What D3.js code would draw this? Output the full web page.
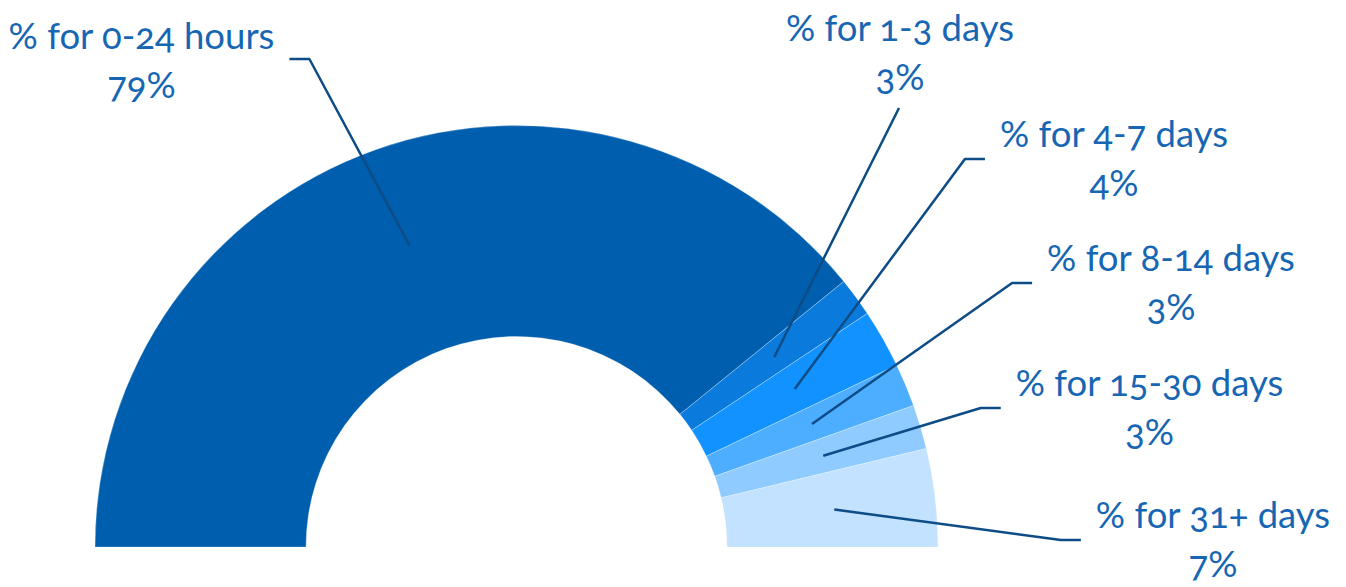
<!DOCTYPE html>
<html>
<head>
<meta charset="utf-8">
<script src="https://cdn.jsdelivr.net/npm/d3@7"></script>
<style>
  html, body { margin: 0; background: #fff; }
  svg { display: block; }
  .lbl {
    font-family: Lato, "Open Sans", "DejaVu Sans", sans-serif;
    font-size: 36.5px;
    fill: #1666b4;
    font-feature-settings: "onum";
  }
</style>
</head>
<body>
<div id="chart"></div>
<script>
// duration buckets, in drawing order (left to right round the half ring)
const categories = ["% for 0-24 hours", "% for 1-3 days", "% for 4-7 days",
  "% for 8-14 days", "% for 15-30 days", "% for 31+ days"];
// slice shares
const shares = [78.3, 3.0, 4.5, 3.3, 3.4, 7.5];
// printed percentages
const pctLabels = ["79%", "3%", "4%", "3%", "3%", "7%"];
const colors = ["#005eae", "#0a7bdc", "#1192ff", "#4daeff", "#8fcbff", "#c2e2ff"];

// where each label sits: x = text centre, y = first baseline, side = where the leader meets it
const labelLayout = [
  { x: 141.5, y: 49, side: "right" },
  { x: 900, y: 41, side: "below" },
  { x: 1114, y: 147, side: "left" },
  { x: 1171, y: 271, side: "left" },
  { x: 1149.5, y: 396, side: "left" },
  { x: 1213, y: 528, side: "left" }
];

const width = 1346, height = 587;
const cx = 516.5, cy = 547;
const rOuter = 421.5, rInner = 210.5;
const lineGap = 49;

const svg = d3.select("#chart").append("svg")
  .attr("width", width)
  .attr("height", height);

const pie = d3.pie()
  .sort(null)
  .startAngle(-Math.PI / 2)
  .endAngle(Math.PI / 2)
  .value(d => d);
const arcs = pie(shares);

const arc = d3.arc().innerRadius(rInner).outerRadius(rOuter);
const anchorArc = d3.arc().innerRadius(320).outerRadius(320);

const ring = svg.append("g").attr("transform", `translate(${cx},${cy})`);
ring.selectAll("path")
  .data(arcs)
  .enter()
  .append("path")
  .attr("d", arc)
  .attr("fill", (d, i) => colors[i])
  .attr("stroke", "rgba(255,255,255,0.35)")
  .attr("stroke-width", 0.8);

const leaders = svg.append("g");
const labels = svg.append("g");

arcs.forEach((d, i) => {
  const lay = labelLayout[i];
  const t = labels.append("text")
    .attr("class", "lbl")
    .attr("text-anchor", "middle");
  const first = t.append("tspan").attr("x", lay.x).attr("y", lay.y).text(categories[i]);
  t.append("tspan").attr("x", lay.x).attr("y", lay.y + lineGap).text(pctLabels[i]);

  const bb = first.node().getBBox();
  const c = anchorArc.centroid(d);
  const start = [cx + c[0], cy + c[1]];
  let pts;
  if (lay.side === "left") {
    const end = [bb.x - 15, lay.y + 12];
    pts = [start, [end[0] - 20, end[1]], end];
  } else if (lay.side === "right") {
    const end = [bb.x + bb.width + 15, lay.y + 10];
    pts = [start, [end[0] + 20, end[1]], end];
  } else {
    pts = [start, [lay.x - 1, lay.y + lineGap + 18]];
  }
  leaders.append("path")
    .attr("d", d3.line()(pts))
    .attr("fill", "none")
    .attr("stroke", "#0d4c86")
    .attr("stroke-width", 2.5)
    .attr("stroke-linejoin", "round");
});
</script>
</body>
</html>
